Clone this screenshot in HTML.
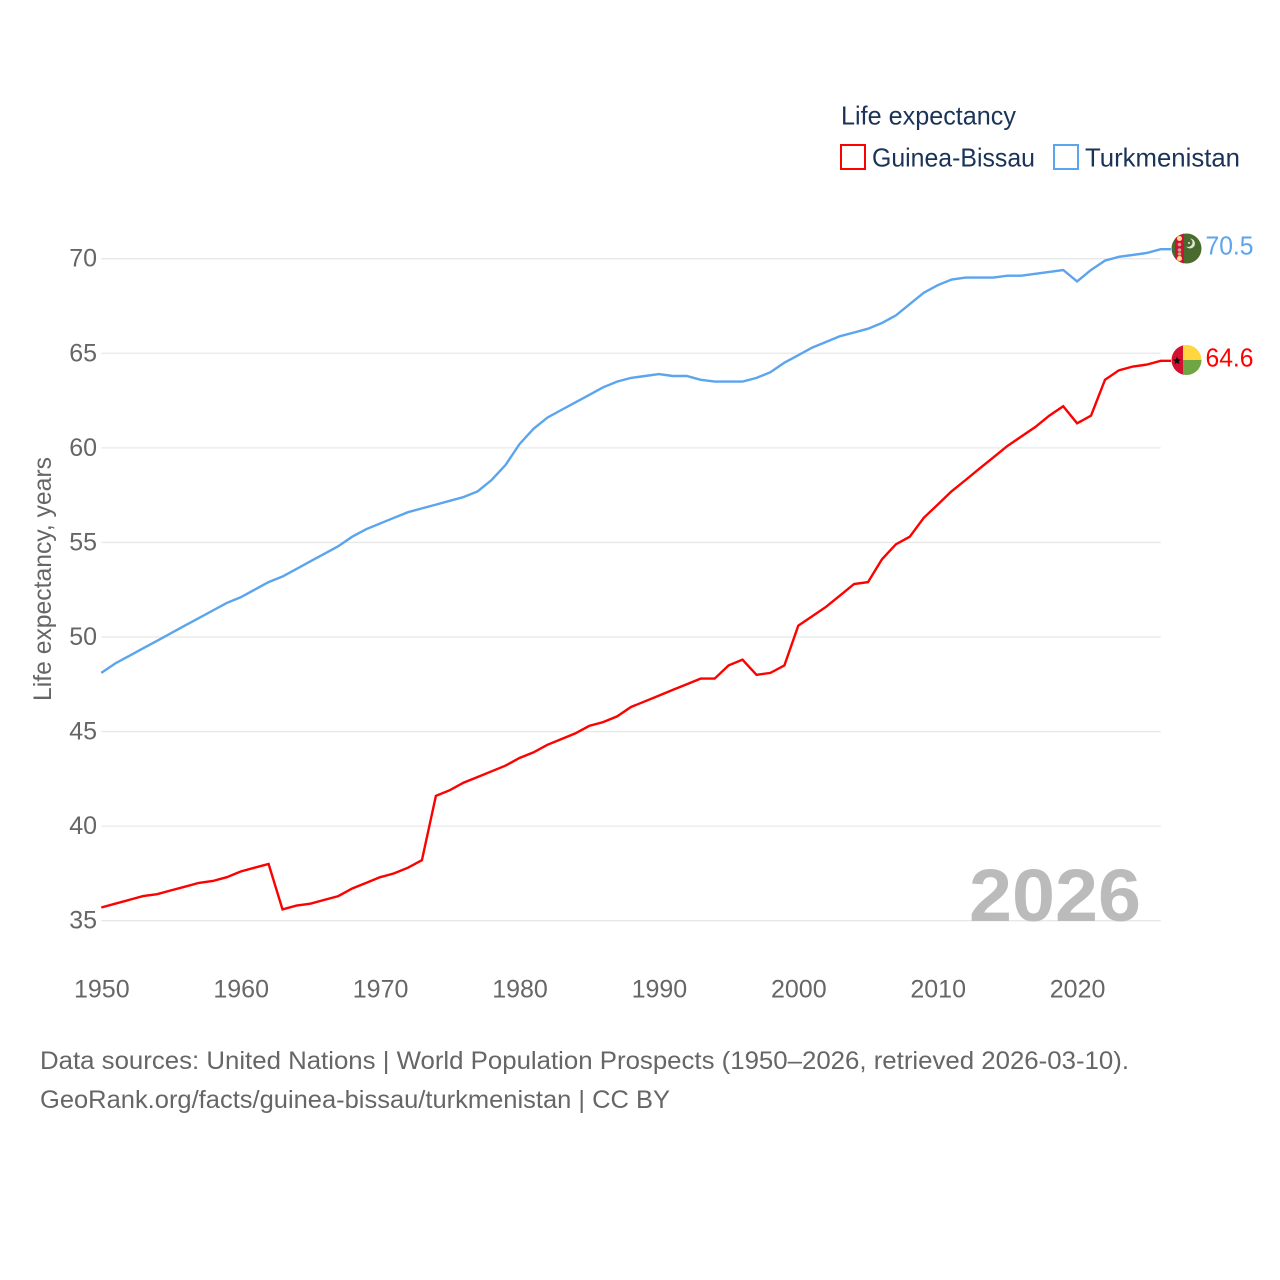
<!DOCTYPE html>
<html lang="en">
<head>
<meta charset="utf-8">
<title>Life expectancy: Guinea-Bissau vs Turkmenistan</title>
<style>
html,body{margin:0;padding:0;background:#fff;width:1280px;height:1280px;overflow:hidden}
svg{display:block}
text{font-family:"Liberation Sans",sans-serif}
</style>
</head>
<body>
<svg id="chart" xmlns="http://www.w3.org/2000/svg" width="1280" height="1280" viewBox="0 0 1280 1280">
  <defs>
    <clipPath id="clip-tm"><circle cx="1186.5" cy="248.5" r="15"/></clipPath>
    <clipPath id="clip-gw"><circle cx="1186.5" cy="360" r="15"/></clipPath>
  </defs>
  <rect x="0" y="0" width="1280" height="1280" fill="#fff"/>
  <g id="grid"></g>
  <g id="yticks"></g>
  <g id="xticks"></g>
  <text transform="translate(51 579) rotate(-90)" text-anchor="middle" font-size="25" fill="#666" textLength="244" lengthAdjust="spacingAndGlyphs">Life expectancy, years</text>
  <text x="969" y="921" font-size="74" font-weight="bold" fill="#bbb" textLength="172" lengthAdjust="spacingAndGlyphs">2026</text>
  <g id="series"></g>

  <g>
    <text x="841" y="124.5" font-size="26" fill="#1a3357" textLength="175" lengthAdjust="spacingAndGlyphs">Life expectancy</text>
    <g>
      <rect x="841" y="145" width="24" height="24" fill="#fff" stroke="#ff0000" stroke-width="2"/>
      <text x="872" y="166.5" font-size="26" fill="#1a3357" textLength="163" lengthAdjust="spacingAndGlyphs">Guinea-Bissau</text>
    </g>
    <g>
      <rect x="1054" y="145" width="24" height="24" fill="#fff" stroke="#5ba4ee" stroke-width="2"/>
      <text x="1085" y="166.5" font-size="26" fill="#1a3357" textLength="155" lengthAdjust="spacingAndGlyphs">Turkmenistan</text>
    </g>
  </g>

  <g clip-path="url(#clip-tm)">
    <rect x="1170" y="232" width="34" height="34" fill="#4a6b2e"/>
    <rect x="1175" y="232" width="9" height="34" fill="#d0103a"/>
    <circle cx="1179.5" cy="238.5" r="2.5" fill="#ffe08a"/>
    <circle cx="1179.5" cy="244.5" r="1.8" fill="#c9a37a"/>
    <circle cx="1179.5" cy="250" r="1.8" fill="#c9a37a"/>
    <circle cx="1179.5" cy="254" r="1.8" fill="#c9a37a"/>
    <circle cx="1179.5" cy="258.5" r="2.5" fill="#ffe08a"/>
    <circle cx="1190" cy="243.5" r="5" fill="#dfe6d8"/>
    <circle cx="1188" cy="242.5" r="4.5" fill="#4a6b2e"/>
    <circle cx="1189" cy="243" r="1" fill="#dfe6d8"/>
  </g>
  <g clip-path="url(#clip-gw)">
    <rect x="1170" y="343" width="14" height="34" fill="#d2102f"/>
    <rect x="1183" y="343" width="20" height="17" fill="#ffd640"/>
    <rect x="1183" y="360" width="20" height="17" fill="#6fa543"/>
    <polygon points="1177,356.5 1178.1,359.3 1181,359.5 1178.8,361.4 1179.5,364.2 1177,362.7 1174.5,364.2 1175.2,361.4 1173,359.5 1175.9,359.3" fill="#111"/>
  </g>

  <text x="1205.5" y="254.5" font-size="25.5" fill="#5ba4ee" textLength="48" lengthAdjust="spacingAndGlyphs">70.5</text>
  <text x="1205.5" y="366.5" font-size="25.5" fill="#ff0000" textLength="48" lengthAdjust="spacingAndGlyphs">64.6</text>

  <text x="40" y="1069" font-size="25" fill="#666" textLength="1089" lengthAdjust="spacingAndGlyphs">Data sources: United Nations | World Population Prospects (1950–2026, retrieved 2026-03-10).</text>
  <text x="40" y="1108" font-size="25" fill="#666" textLength="630" lengthAdjust="spacingAndGlyphs">GeoRank.org/facts/guinea-bissau/turkmenistan | CC BY</text>
</svg>
<script>
const years = [1950,1951,1952,1953,1954,1955,1956,1957,1958,1959,1960,1961,1962,1963,1964,1965,1966,1967,1968,1969,1970,1971,1972,1973,1974,1975,1976,1977,1978,1979,1980,1981,1982,1983,1984,1985,1986,1987,1988,1989,1990,1991,1992,1993,1994,1995,1996,1997,1998,1999,2000,2001,2002,2003,2004,2005,2006,2007,2008,2009,2010,2011,2012,2013,2014,2015,2016,2017,2018,2019,2020,2021,2022,2023,2024,2025,2026];
const guineaBissau = [35.7,35.9,36.1,36.3,36.4,36.6,36.8,37.0,37.1,37.3,37.6,37.8,38.0,35.6,35.8,35.9,36.1,36.3,36.7,37.0,37.3,37.5,37.8,38.2,41.6,41.9,42.3,42.6,42.9,43.2,43.6,43.9,44.3,44.6,44.9,45.3,45.5,45.8,46.3,46.6,46.9,47.2,47.5,47.8,47.8,48.5,48.8,48.0,48.1,48.5,50.6,51.1,51.6,52.2,52.8,52.9,54.1,54.9,55.3,56.3,57.0,57.7,58.3,58.9,59.5,60.1,60.6,61.1,61.7,62.2,61.3,61.7,63.6,64.1,64.3,64.4,64.6];
const turkmenistan = [48.1,48.6,49.0,49.4,49.8,50.2,50.6,51.0,51.4,51.8,52.1,52.5,52.9,53.2,53.6,54.0,54.4,54.8,55.3,55.7,56.0,56.3,56.6,56.8,57.0,57.2,57.4,57.7,58.3,59.1,60.2,61.0,61.6,62.0,62.4,62.8,63.2,63.5,63.7,63.8,63.9,63.8,63.8,63.6,63.5,63.5,63.5,63.7,64.0,64.5,64.9,65.3,65.6,65.9,66.1,66.3,66.6,67.0,67.6,68.2,68.6,68.9,69.0,69.0,69.0,69.1,69.1,69.2,69.3,69.4,68.8,69.4,69.9,70.1,70.2,70.3,70.5];
const yTickValues = [35,40,45,50,55,60,65,70];
const xTickValues = [1950,1960,1970,1980,1990,2000,2010,2020];

const SVG_NS = 'http://www.w3.org/2000/svg';
const xScale = function (year) { return 101.3 + (year - 1950) * 13.94; };
const yScale = function (value) { return 920.7 - (value - 35) * (920.7 - 258.7) / 35; };

const gridGroup = document.getElementById('grid');
const yTickGroup = document.getElementById('yticks');
const xTickGroup = document.getElementById('xticks');
const seriesGroup = document.getElementById('series');

yTickValues.forEach(function (tick) {
  const line = document.createElementNS(SVG_NS, 'line');
  
  
  line.setAttribute('x1', xScale(1950));
  line.setAttribute('x2', xScale(2026));
  line.setAttribute('y1', yScale(tick));
  line.setAttribute('y2', yScale(tick));
  line.setAttribute('stroke', '#e8e8e8');
  line.setAttribute('stroke-width', '1.3');
  gridGroup.appendChild(line);

  const label = document.createElementNS(SVG_NS, 'text');
  
  
  label.setAttribute('x', 97);
  label.setAttribute('y', yScale(tick) + 8);
  label.setAttribute('text-anchor', 'end');
  label.setAttribute('font-size', '25');
  label.setAttribute('fill', '#666');
  label.textContent = tick;
  yTickGroup.appendChild(label);
});

xTickValues.forEach(function (tick) {
  const label = document.createElementNS(SVG_NS, 'text');
  
  
  label.setAttribute('x', xScale(tick) + 0.5);
  label.setAttribute('y', 997.5);
  label.setAttribute('text-anchor', 'middle');
  label.setAttribute('font-size', '25');
  label.setAttribute('fill', '#666');
  label.textContent = tick;
  xTickGroup.appendChild(label);
});

function drawSeries(values, color, name) {
  const points = values.map(function (value, i) {
    return xScale(years[i]).toFixed(1) + ',' + yScale(value).toFixed(1);
  });
  const lastY = yScale(values[values.length - 1]).toFixed(1);
  const path = document.createElementNS(SVG_NS, 'polyline');
  
  
  path.setAttribute('points', points.join(' ') + ' 1171,' + lastY);
  path.setAttribute('fill', 'none');
  path.setAttribute('stroke', color);
  path.setAttribute('stroke-width', '2.4');
  path.setAttribute('stroke-linejoin', 'miter');
  seriesGroup.appendChild(path);
}

drawSeries(turkmenistan, '#5ba4ee', 'turkmenistan');
drawSeries(guineaBissau, '#ff0000', 'guinea-bissau');
</script>
</body>
</html>
